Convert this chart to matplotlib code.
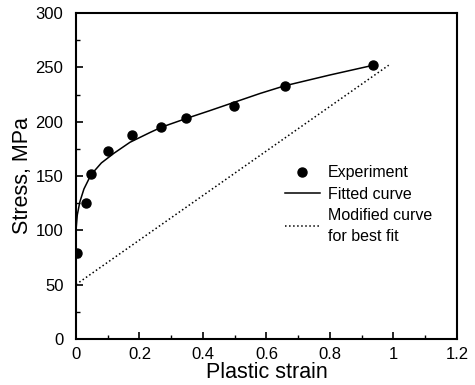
import matplotlib
matplotlib.use("Agg")
import matplotlib.pyplot as plt
from matplotlib.ticker import MultipleLocator

plt.rcParams["font.family"] = ["Liberation Sans", "DejaVu Sans"]

# experimental points
exp_strain = [0.003, 0.03, 0.047, 0.10, 0.175, 0.269, 0.348, 0.498, 0.657, 0.937]
exp_stress = [79, 125, 152, 173, 188, 195, 203, 214, 233, 252]

# fitted curve
fit_strain = [0, 0.004, 0.012, 0.025, 0.047, 0.08, 0.12, 0.17, 0.233, 0.27,
              0.348, 0.42, 0.5, 0.58, 0.657, 0.8, 0.937]
fit_stress = [100, 114, 126, 138, 151, 162, 171, 181, 190, 195,
              203, 210, 218, 226, 233, 243, 252]

# modified curve for best fit
mod_strain = [0, 0.985]
mod_stress = [50, 252]

fig = plt.figure(figsize=(4.75, 3.85), dpi=100)
ax = fig.add_axes([0.16, 0.12, 0.802, 0.846])

ax.plot(exp_strain, exp_stress, "o", color="black", markersize=6.5, label="Experiment")
ax.plot(fit_strain, fit_stress, "-", color="black", linewidth=1.1, label="Fitted curve")
ax.plot(mod_strain, mod_stress, ":", color="black", linewidth=1.1,
        label="Modified curve\nfor best fit")

ax.set_xlim(0, 1.2)
ax.set_ylim(0, 300)
ax.xaxis.set_major_locator(MultipleLocator(0.2))
ax.xaxis.set_minor_locator(MultipleLocator(0.1))
ax.yaxis.set_major_locator(MultipleLocator(50))
ax.yaxis.set_minor_locator(MultipleLocator(25))
ax.set_xticks([0, 0.2, 0.4, 0.6, 0.8, 1.0, 1.2])
ax.set_xticklabels(["0", "0.2", "0.4", "0.6", "0.8", "1", "1.2"])

ax.tick_params(which="both", direction="in", top=False, right=False, labelsize=12)
ax.tick_params(axis="y", which="major", pad=9)
ax.tick_params(axis="x", which="major", pad=6)
ax.tick_params(which="major", length=5, width=1.2)
ax.tick_params(which="minor", length=3, width=1)
for s in ax.spines.values():
    s.set_linewidth(1.5)

ax.set_xlabel("Plastic strain", fontsize=15.5, labelpad=0)
ax.set_ylabel("Stress, MPa", fontsize=15.5, labelpad=2)

leg = ax.legend(loc="upper left", bbox_to_anchor=(0.527, 0.557), frameon=False,
                fontsize=11.5, handlelength=2.2, handletextpad=0.5,
                labelspacing=0.4, borderpad=0)
leg.get_texts()[2].set_linespacing(1.45)

fig.savefig("out.png", dpi=100)
